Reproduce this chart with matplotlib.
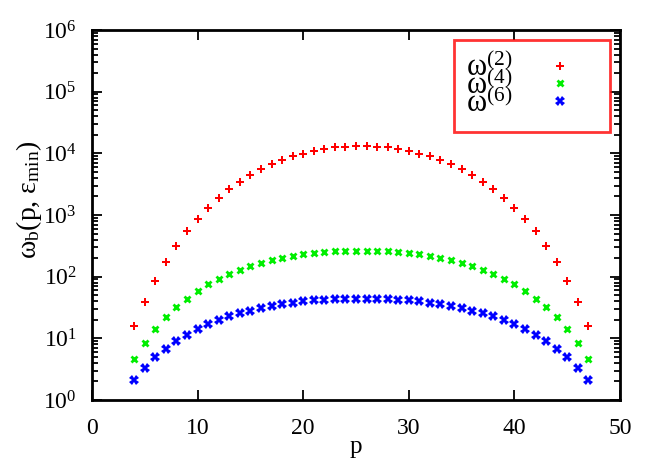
import numpy as np
import matplotlib
matplotlib.use('Agg')
import matplotlib.pyplot as plt
from matplotlib.ticker import LogLocator, FixedLocator

plt.rcParams['font.family'] = 'Liberation Serif'
plt.rcParams['mathtext.fontset'] = 'custom'
plt.rcParams['mathtext.rm'] = 'Liberation Serif'
plt.rcParams['mathtext.it'] = 'Liberation Serif:italic'

p = list(range(4, 48))

omega2 = [16, 39, 86, 173, 318, 543, 861, 1300, 1890, 2610, 3430, 4400, 5510, 6710,
          7800, 9060, 9860, 10900, 11750, 12500, 12820, 13150,
          13150, 12820, 12500, 11750, 10900, 9860, 9060, 7800, 6710, 5510, 4400,
          3430, 2610, 1890, 1300, 861, 543, 318, 173, 86, 39, 16]
omega4 = [4.56, 8.51, 14.2, 21.9, 31.8, 44.0, 58.5, 75.2, 91.6, 110, 130, 149, 167,
          184, 203, 216, 230, 242, 251, 258, 261, 264,
          264, 261, 258, 251, 242, 230, 216, 203, 184, 167, 149, 130, 110, 91.6,
          75.2, 58.5, 44.0, 31.8, 21.9, 14.2, 8.51, 4.56]
omega6 = [2.11, 3.30, 4.92, 6.79, 9.06, 11.5, 14.2, 17.1, 19.8, 22.8, 25.5, 28.1,
          30.7, 33.4, 36.1, 37.8, 39.8, 41.3, 42.4, 42.9, 43.5, 43.5,
          43.5, 43.5, 42.9, 42.4, 41.3, 39.8, 37.8, 36.1, 33.4, 30.7, 28.1, 25.5,
          22.8, 19.8, 17.1, 14.2, 11.5, 9.06, 6.79, 4.92, 3.30, 2.11]
labels = [r'ω$^{(2)}$', r'ω$^{(4)}$', r'ω$^{(6)}$']

fig = plt.figure(figsize=(6.64, 4.65), dpi=100)
ax = fig.add_axes([92/664, 1-400/465, 528/664, 370/465])

ax.plot(p, omega2, linestyle='none', marker='P', color='#ff0000', ms=5.5, mew=0, label=labels[0])
ax.plot(p, omega4, linestyle='none', marker='x', color='#00ee00', ms=5, mew=2, label=labels[1])
ax.plot(p, omega6, linestyle='none', marker='X', color='#0000ff', ms=6.5, mew=0, label=labels[2])

ax.set_yscale('log')
ax.set_xlim(0, 50)
ax.set_ylim(1, 1e6)
ax.xaxis.set_major_locator(FixedLocator([0, 10, 20, 30, 40, 50]))
ax.yaxis.set_major_locator(LogLocator(base=10, numticks=10))
ax.yaxis.set_minor_locator(LogLocator(base=10, subs=np.arange(2, 10), numticks=20))
ax.tick_params(which='both', direction='in', top=True, right=True, labelsize=17, width=1.3)
ax.tick_params(which='major', length=7)
ax.tick_params(which='minor', length=4)
ax.tick_params(axis='x', pad=13)
ax.tick_params(axis='y', pad=11)
for s in ax.spines.values():
    s.set_linewidth(2)

ax.set_xlabel('p', fontsize=18, labelpad=-2)
ax.set_ylabel(r'ω$_{\rm b}$(p, ε$_{\rm min}$)', fontsize=20)
ax.yaxis.set_label_coords(-0.09, 0.54)

leg = ax.legend(loc='upper right', bbox_to_anchor=(0.981, 0.973), markerfirst=False,
                fontsize=22, frameon=True, fancybox=False, handletextpad=0.36,
                labelspacing=-0.42, borderpad=0.42, handlelength=2.4, borderaxespad=0)
leg.get_frame().set_edgecolor('#ff0000')
leg.get_frame().set_linewidth(2)

fig.savefig('out.png', dpi=100)
plt.close()
